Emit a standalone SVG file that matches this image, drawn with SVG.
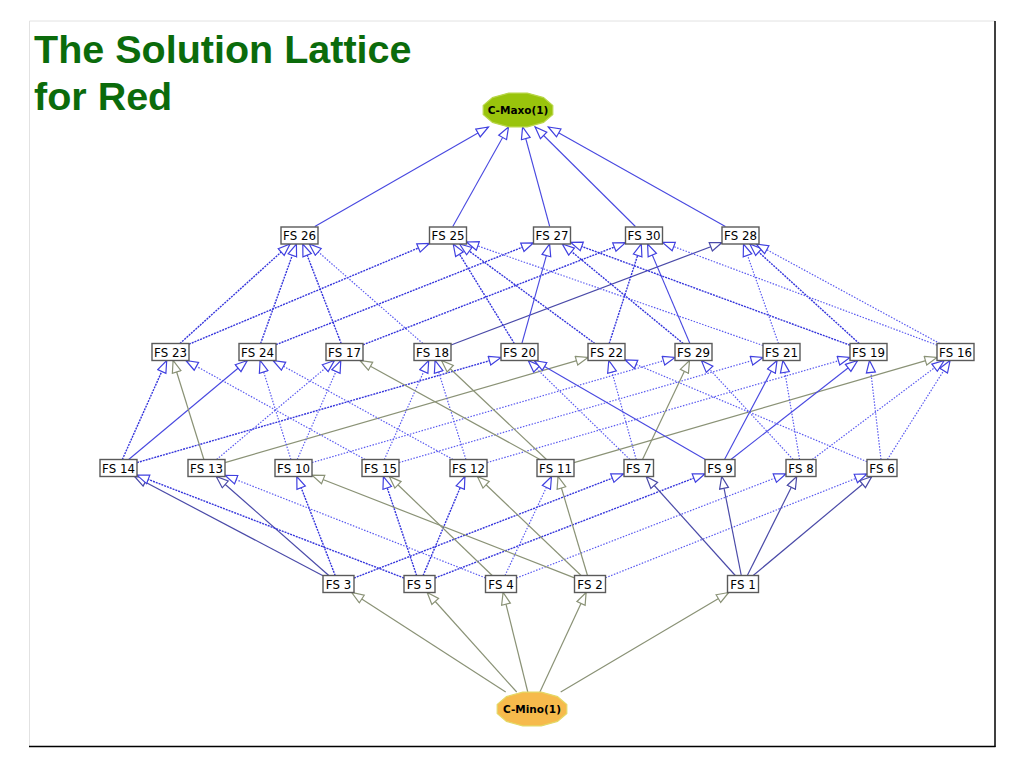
<svg xmlns="http://www.w3.org/2000/svg" width="1024" height="768" viewBox="0 0 1024 768">
<style>
.title{font-family:"Liberation Sans",Arial,sans-serif;font-weight:bold;font-size:39.5px;fill:#0b6b0b}
.box{fill:#fff;stroke:#5a5a5a;stroke-width:1.4}
.lbl{font-family:"DejaVu Sans",Verdana,sans-serif;font-size:11.8px;fill:#000;text-anchor:middle}
.olbl{font-family:"DejaVu Sans",Verdana,sans-serif;font-weight:bold;font-size:10.5px;fill:#000;text-anchor:middle}
#edges line{fill:none}
.s{stroke:#4848e0;stroke-width:1.1;marker-end:url(#mb)}
.d{stroke:#3535dc;stroke-width:1.4;stroke-dasharray:2 1;marker-end:url(#mb)}
.l{stroke:#5a5af0;stroke-width:1.2;stroke-dasharray:1.5 1.5;marker-end:url(#mb)}
.g{stroke:#8a9276;stroke-width:1.2;marker-end:url(#mg)}
.k{stroke:#4a4aa8;stroke-width:1.2;marker-end:url(#mk)}
</style>
<defs>
<marker id="mb" markerUnits="userSpaceOnUse" markerWidth="15" markerHeight="12" refX="13" refY="5.5" orient="auto"><path d="M1,1 L13,5.5 L1,10 Z" fill="#fff" stroke="#4040e0" stroke-width="1.2"/></marker>
<marker id="mg" markerUnits="userSpaceOnUse" markerWidth="15" markerHeight="12" refX="13" refY="5.5" orient="auto"><path d="M1,1 L13,5.5 L1,10 Z" fill="#fff" stroke="#8a9276" stroke-width="1.2"/></marker>
<marker id="mk" markerUnits="userSpaceOnUse" markerWidth="15" markerHeight="12" refX="13" refY="5.5" orient="auto"><path d="M1,1 L13,5.5 L1,10 Z" fill="#fff" stroke="#4a4aa8" stroke-width="1.2"/></marker>
</defs>
<rect width="1024" height="768" fill="#fff"/>
<g id="frame">
<line x1="29.5" y1="21" x2="995" y2="21" stroke="#e2e2e2" stroke-width="1"/>
<line x1="29.5" y1="21" x2="29.5" y2="746" stroke="#e2e2e2" stroke-width="1"/>
<line x1="995" y1="21" x2="995" y2="747" stroke="#000" stroke-width="1.5"/>
<line x1="29" y1="746.5" x2="995.5" y2="746.5" stroke="#000" stroke-width="1.5"/>
</g>
<g id="title">
<text class="title" x="34" y="63">The Solution Lattice</text>
<text class="title" x="34" y="110">for Red</text>
</g>
<g id="edges">
<line class="s" x1="314.8" y1="226.5" x2="488.4" y2="127"/>
<line class="s" x1="452.8" y1="226.5" x2="508.5" y2="127"/>
<line class="s" x1="549.7" y1="226.5" x2="522.6" y2="127"/>
<line class="s" x1="635.4" y1="226.5" x2="535.1" y2="127"/>
<line class="s" x1="725.4" y1="226.5" x2="548.3" y2="127"/>
<line class="d" x1="179.9" y1="343.5" x2="290.1" y2="244"/>
<line class="d" x1="189" y1="344.2" x2="429.5" y2="243.3"/>
<line class="d" x1="260.6" y1="343.5" x2="296.4" y2="244"/>
<line class="d" x1="276" y1="344.7" x2="533.5" y2="242.8"/>
<line class="d" x1="341.2" y1="343.5" x2="302.8" y2="244"/>
<line class="d" x1="363" y1="344.8" x2="625.5" y2="242.7"/>
<line class="l" x1="422.8" y1="343.5" x2="309.2" y2="244"/>
<line class="k" x1="451" y1="345" x2="722" y2="242.5"/>
<line class="d" x1="514.3" y1="343.5" x2="453.2" y2="244"/>
<line class="s" x1="521.9" y1="343.5" x2="549.6" y2="244"/>
<line class="d" x1="594.9" y1="343.5" x2="459.6" y2="244"/>
<line class="d" x1="609.2" y1="343.5" x2="641.3" y2="244"/>
<line class="d" x1="683.2" y1="343.5" x2="562.3" y2="244"/>
<line class="s" x1="689.9" y1="343.5" x2="647.6" y2="244"/>
<line class="l" x1="763" y1="345.5" x2="466.5" y2="242"/>
<line class="l" x1="778.5" y1="343.5" x2="743.5" y2="244"/>
<line class="d" x1="850" y1="345.2" x2="570.5" y2="242.3"/>
<line class="d" x1="859.2" y1="343.5" x2="749.8" y2="244"/>
<line class="l" x1="937" y1="345.1" x2="662.5" y2="242.4"/>
<line class="l" x1="939.8" y1="343.5" x2="756.2" y2="244"/>
<line class="d" x1="122.3" y1="459.5" x2="166.7" y2="360.5"/>
<line class="s" x1="128.7" y1="459.5" x2="247.3" y2="360.5"/>
<line class="d" x1="137" y1="462.6" x2="501" y2="357.4"/>
<line class="g" x1="203.9" y1="459.5" x2="173.1" y2="360.5"/>
<line class="l" x1="216.6" y1="459.5" x2="334.4" y2="360.5"/>
<line class="g" x1="225" y1="462.6" x2="588" y2="357.4"/>
<line class="l" x1="290.9" y1="459.5" x2="260.1" y2="360.5"/>
<line class="l" x1="297.2" y1="459.5" x2="340.8" y2="360.5"/>
<line class="l" x1="312" y1="462.6" x2="675" y2="357.4"/>
<line class="l" x1="365.1" y1="459.5" x2="185.9" y2="360.5"/>
<line class="l" x1="384.3" y1="459.5" x2="428.7" y2="360.5"/>
<line class="l" x1="399" y1="462.6" x2="763" y2="357.4"/>
<line class="l" x1="453" y1="459.5" x2="273" y2="360.5"/>
<line class="l" x1="465.9" y1="459.5" x2="435.1" y2="360.5"/>
<line class="l" x1="487" y1="462.6" x2="850" y2="357.4"/>
<line class="g" x1="540" y1="459.5" x2="360" y2="360.5"/>
<line class="g" x1="546.5" y1="459.5" x2="441.5" y2="360.5"/>
<line class="g" x1="574" y1="462.6" x2="937" y2="357.4"/>
<line class="l" x1="629.8" y1="459.5" x2="528.2" y2="360.5"/>
<line class="l" x1="636.2" y1="459.5" x2="608.8" y2="360.5"/>
<line class="g" x1="642.5" y1="459.5" x2="689.5" y2="360.5"/>
<line class="s" x1="705.3" y1="459.5" x2="534.2" y2="360.5"/>
<line class="s" x1="724.5" y1="459.5" x2="777" y2="360.5"/>
<line class="s" x1="730.9" y1="459.5" x2="857.6" y2="360.5"/>
<line class="l" x1="793.1" y1="459.5" x2="701.4" y2="360.5"/>
<line class="l" x1="799.6" y1="459.5" x2="782.9" y2="360.5"/>
<line class="l" x1="812.3" y1="459.5" x2="944.2" y2="360.5"/>
<line class="l" x1="867" y1="461.7" x2="625" y2="359.8"/>
<line class="l" x1="881" y1="459.5" x2="869.5" y2="360.5"/>
<line class="l" x1="887.4" y1="459.5" x2="950.1" y2="360.5"/>
<line class="k" x1="323" y1="575.8" x2="134.6" y2="476.5"/>
<line class="k" x1="328.8" y1="575.5" x2="216.2" y2="476.5"/>
<line class="d" x1="335.2" y1="575.5" x2="296.8" y2="476.5"/>
<line class="d" x1="354" y1="578" x2="623.5" y2="473.8"/>
<line class="d" x1="404" y1="578" x2="137" y2="475.1"/>
<line class="d" x1="416.6" y1="575.5" x2="383.4" y2="476.5"/>
<line class="d" x1="423.1" y1="575.5" x2="464.9" y2="476.5"/>
<line class="d" x1="435" y1="578" x2="705" y2="473.8"/>
<line class="l" x1="485.5" y1="577.9" x2="225" y2="475.3"/>
<line class="g" x1="492.2" y1="575.5" x2="389.3" y2="476.5"/>
<line class="l" x1="505" y1="575.5" x2="551.5" y2="476.5"/>
<line class="l" x1="516.5" y1="578" x2="786" y2="473.8"/>
<line class="g" x1="574.5" y1="577.9" x2="312" y2="475.2"/>
<line class="g" x1="581.1" y1="575.5" x2="477.4" y2="476.5"/>
<line class="g" x1="587.5" y1="575.5" x2="558" y2="476.5"/>
<line class="l" x1="605.5" y1="577.8" x2="867" y2="474"/>
<line class="k" x1="735.3" y1="575.5" x2="646.2" y2="476.5"/>
<line class="k" x1="741.3" y1="575.5" x2="721.7" y2="476.5"/>
<line class="k" x1="747.3" y1="575.5" x2="796.7" y2="476.5"/>
<line class="k" x1="753.2" y1="575.5" x2="871.8" y2="476.5"/>
<line class="g" x1="505.7" y1="692" x2="351.7" y2="592.5"/>
<line class="g" x1="516.7" y1="692" x2="427.2" y2="592.5"/>
<line class="g" x1="527.8" y1="692" x2="503.1" y2="592.5"/>
<line class="g" x1="539.9" y1="692" x2="586.1" y2="592.5"/>
<line class="g" x1="560.7" y1="692" x2="728.7" y2="592.5"/>
</g>
<g id="n-maxo">
<polygon points="552.8,114.5 543.5,122.4 527.3,126.9 508.7,126.9 492.5,122.4 483.2,114.5 483.2,105.5 492.5,97.6 508.7,93.1 527.3,93.1 543.5,97.6 552.8,105.5" fill="#99c40c" stroke="#b8d648" stroke-width="1.2"/>
<text class="olbl" x="518" y="114">C-Maxo(1)</text>
</g>
<g id="n-mino">
<polygon points="566.8,713.5 557.5,721.4 541.3,725.9 522.7,725.9 506.5,721.4 497.2,713.5 497.2,704.5 506.5,696.6 522.7,692.1 541.3,692.1 557.5,696.6 566.8,704.5" fill="#f6ba4c" stroke="#e4d866" stroke-width="1.2"/>
<text class="olbl" x="532" y="713">C-Mino(1)</text>
</g>
<g id="fs26"><rect class="box" x="281" y="227" width="37" height="17"/><text class="lbl" x="299.5" y="240">FS 26</text></g>
<g id="fs25"><rect class="box" x="429.5" y="227" width="37" height="17"/><text class="lbl" x="448" y="240">FS 25</text></g>
<g id="fs27"><rect class="box" x="533.5" y="227" width="37" height="17"/><text class="lbl" x="552" y="240">FS 27</text></g>
<g id="fs30"><rect class="box" x="625.5" y="227" width="37" height="17"/><text class="lbl" x="644" y="240">FS 30</text></g>
<g id="fs28"><rect class="box" x="722" y="227" width="37" height="17"/><text class="lbl" x="740.5" y="240">FS 28</text></g>
<g id="fs23"><rect class="box" x="152" y="343.5" width="37" height="17"/><text class="lbl" x="170.5" y="356.5">FS 23</text></g>
<g id="fs24"><rect class="box" x="239" y="343.5" width="37" height="17"/><text class="lbl" x="257.5" y="356.5">FS 24</text></g>
<g id="fs17"><rect class="box" x="326" y="343.5" width="37" height="17"/><text class="lbl" x="344.5" y="356.5">FS 17</text></g>
<g id="fs18"><rect class="box" x="414" y="343.5" width="37" height="17"/><text class="lbl" x="432.5" y="356.5">FS 18</text></g>
<g id="fs20"><rect class="box" x="501" y="343.5" width="37" height="17"/><text class="lbl" x="519.5" y="356.5">FS 20</text></g>
<g id="fs22"><rect class="box" x="588" y="343.5" width="37" height="17"/><text class="lbl" x="606.5" y="356.5">FS 22</text></g>
<g id="fs29"><rect class="box" x="675" y="343.5" width="37" height="17"/><text class="lbl" x="693.5" y="356.5">FS 29</text></g>
<g id="fs21"><rect class="box" x="763" y="343.5" width="37" height="17"/><text class="lbl" x="781.5" y="356.5">FS 21</text></g>
<g id="fs19"><rect class="box" x="850" y="343.5" width="37" height="17"/><text class="lbl" x="868.5" y="356.5">FS 19</text></g>
<g id="fs16"><rect class="box" x="937" y="343.5" width="37" height="17"/><text class="lbl" x="955.5" y="356.5">FS 16</text></g>
<g id="fs14"><rect class="box" x="100" y="459.5" width="37" height="17"/><text class="lbl" x="118.5" y="472.5">FS 14</text></g>
<g id="fs13"><rect class="box" x="188" y="459.5" width="37" height="17"/><text class="lbl" x="206.5" y="472.5">FS 13</text></g>
<g id="fs10"><rect class="box" x="275" y="459.5" width="37" height="17"/><text class="lbl" x="293.5" y="472.5">FS 10</text></g>
<g id="fs15"><rect class="box" x="362" y="459.5" width="37" height="17"/><text class="lbl" x="380.5" y="472.5">FS 15</text></g>
<g id="fs12"><rect class="box" x="450" y="459.5" width="37" height="17"/><text class="lbl" x="468.5" y="472.5">FS 12</text></g>
<g id="fs11"><rect class="box" x="537" y="459.5" width="37" height="17"/><text class="lbl" x="555.5" y="472.5">FS 11</text></g>
<g id="fs7"><rect class="box" x="624" y="459.5" width="29.5" height="17"/><text class="lbl" x="638.75" y="472.5">FS 7</text></g>
<g id="fs9"><rect class="box" x="705" y="459.5" width="30" height="17"/><text class="lbl" x="720" y="472.5">FS 9</text></g>
<g id="fs8"><rect class="box" x="786" y="459.5" width="30" height="17"/><text class="lbl" x="801" y="472.5">FS 8</text></g>
<g id="fs6"><rect class="box" x="867" y="459.5" width="30" height="17"/><text class="lbl" x="882" y="472.5">FS 6</text></g>
<g id="fs3"><rect class="box" x="323" y="575.5" width="31" height="17"/><text class="lbl" x="338.5" y="588.5">FS 3</text></g>
<g id="fs5"><rect class="box" x="404" y="575.5" width="31" height="17"/><text class="lbl" x="419.5" y="588.5">FS 5</text></g>
<g id="fs4"><rect class="box" x="485.5" y="575.5" width="31" height="17"/><text class="lbl" x="501" y="588.5">FS 4</text></g>
<g id="fs2"><rect class="box" x="574.5" y="575.5" width="31" height="17"/><text class="lbl" x="590" y="588.5">FS 2</text></g>
<g id="fs1"><rect class="box" x="727.5" y="575.5" width="31" height="17"/><text class="lbl" x="743" y="588.5">FS 1</text></g>
</svg>
